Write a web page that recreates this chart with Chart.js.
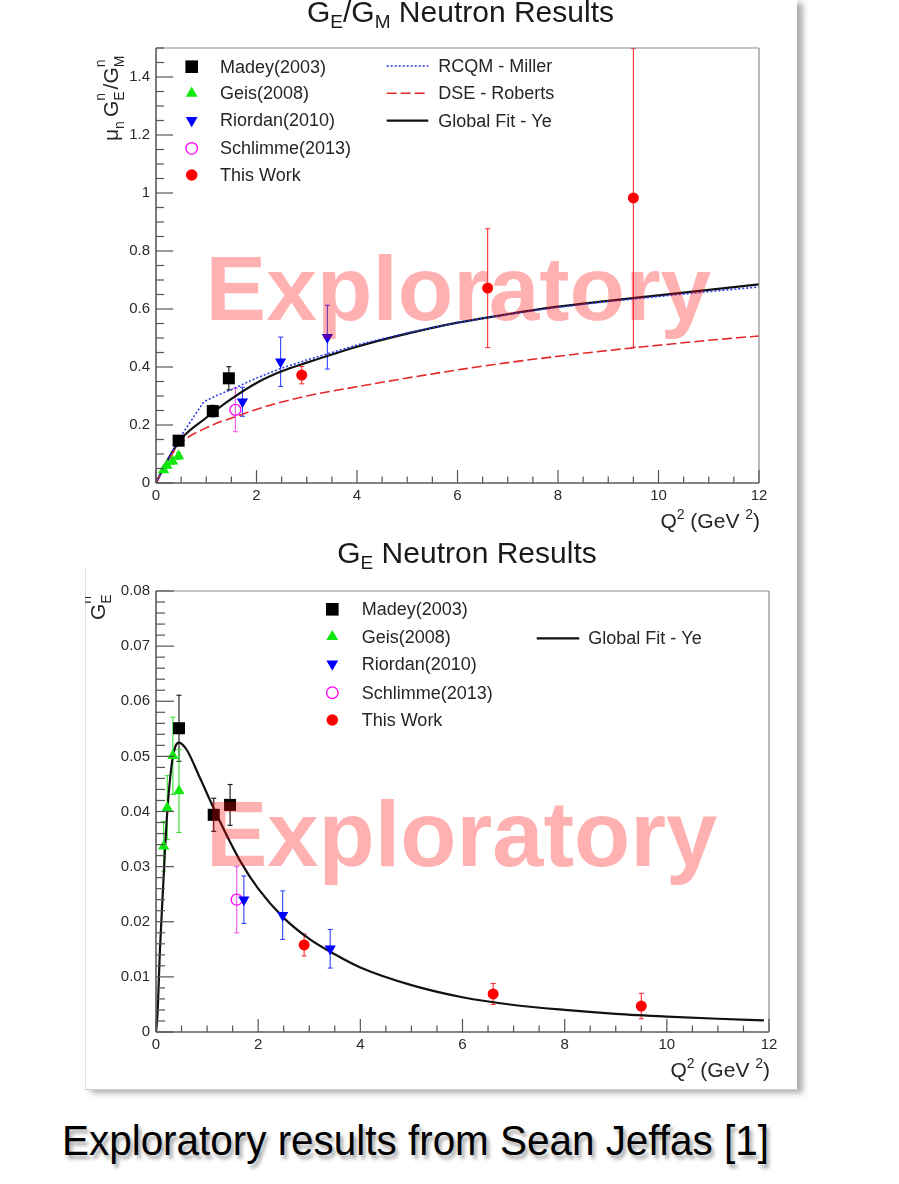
<!DOCTYPE html>
<html>
<head>
<meta charset="utf-8">
<script src="https://cdn.jsdelivr.net/npm/chart.js@4/dist/chart.umd.min.js"></script>
<style>
  html, body { margin: 0; padding: 0; background: #fff; }
  body { width: 899px; height: 1184px; position: relative; overflow: hidden; font-family: "Liberation Sans", Arial, sans-serif; }
  #panel { position: absolute; left: 85px; top: 0; width: 712px; height: 1090px; background: #fff;
           box-shadow: 6px 3px 6px rgba(0,0,0,0.32); }
  #lowerEdge { position: absolute; left: 85px; top: 568px; width: 712px; height: 522px; box-sizing: border-box;
               border-left: 1px solid #e2e2e2; border-bottom: 1px solid #d0d0d0; }
  canvas { position: absolute; left: 85px; }
  #ratioChart { top: 0; }
  #geChart { top: 540px; }
  #caption { position: absolute; left: 62px; top: 1119px; font-size: 43px; line-height: 43px; color: #000;
             white-space: nowrap; transform: scaleX(0.94); transform-origin: 0 0;
             text-shadow: 3px 4px 4px rgba(0,0,0,0.35); }
</style>
</head>
<body>
<div id="panel"></div>
<div id="lowerEdge"></div>
<canvas id="ratioChart" width="712" height="540"></canvas>
<canvas id="geChart" width="712" height="550"></canvas>
<div id="caption">Exploratory results from Sean Jeffas [1]</div>

<script>
// ---------- mu_n G_E/G_M panel ----------
const madeyQ2 = [0.45, 1.13, 1.45];
const madeyRatio = [0.146, 0.248, 0.361];
const madeyRatioErr = [0.012, 0.02, 0.04];

const geisQ2 = [0.15, 0.22, 0.33, 0.45];
const geisRatio = [0.045, 0.06, 0.075, 0.093];
const geisRatioErr = [0.008, 0.009, 0.01, 0.012];

const riordanQ2 = [1.72, 2.48, 3.41];
const riordanRatio = [0.28, 0.418, 0.503];
const riordanRatioErr = [0.05, 0.085, 0.11];

const schlimmeQ2 = [1.58];
const schlimmeRatio = [0.252];
const schlimmeRatioErr = [0.075];

const thisWorkQ2 = [2.9, 6.6, 9.5];
const thisWorkRatio = [0.372, 0.672, 0.983];
const thisWorkRatioErr = [0.03, 0.205, 0.515];

const millerQ2    = [0, 0.25, 0.45, 0.95, 1.25, 1.5, 2, 2.5, 3, 3.5, 4, 5, 6, 7, 8, 9, 10, 11, 12];
const millerRatio = [0, 0.085, 0.15, 0.28, 0.305, 0.322, 0.362, 0.396, 0.424, 0.45, 0.476, 0.518, 0.553, 0.582, 0.606, 0.626, 0.643, 0.66, 0.676];

const robertsQ2    = [0, 0.2, 0.45, 1, 1.67, 2.07, 3, 4, 5, 6, 7, 8, 9, 10, 11, 12];
const robertsRatio = [0, 0.065, 0.13, 0.19, 0.234, 0.258, 0.3, 0.332, 0.362, 0.39, 0.415, 0.437, 0.457, 0.475, 0.492, 0.507];

const yeQ2    = [0, 0.25, 0.5, 1, 1.5, 2, 2.5, 3, 4, 5, 6, 7, 8, 9, 10, 11, 12];
const yeRatio = [0, 0.085, 0.152, 0.225, 0.29, 0.345, 0.385, 0.415, 0.47, 0.515, 0.553, 0.582, 0.608, 0.628, 0.647, 0.666, 0.685];

// ---------- G_E^n panel ----------
const madeyGE = [0.0551, 0.0394, 0.0412];
const madeyGEErr = [0.006, 0.003, 0.0037];
const geisGE = [0.0337, 0.0407, 0.0501, 0.0437];
const geisGEErr = [0.0045, 0.0058, 0.007, 0.0075];
const riordanGE = [0.024, 0.0212, 0.0151];
const riordanGEErr = [0.0043, 0.0044, 0.0035];
const schlimmeGE = [0.024];
const schlimmeGEErr = [0.006];
const thisWorkGE = [0.0158, 0.0069, 0.0047];
const thisWorkGEErr = [0.002, 0.0019, 0.0023];

const yeGEQ2 = [0, 0.03, 0.08, 0.14, 0.21, 0.3, 0.38, 0.45, 0.6, 0.85, 1.2, 1.65, 2, 2.5, 3, 3.5, 4, 5, 6, 7, 8, 9, 10, 11, 11.9];
const yeGE   = [0, 0.0034, 0.0155, 0.0264, 0.0385, 0.048, 0.0518, 0.0525, 0.0512, 0.0463, 0.0392, 0.031, 0.026, 0.0207, 0.0169, 0.0141, 0.0117, 0.0085, 0.0063, 0.0049, 0.004, 0.0033, 0.0028, 0.0024, 0.0021];

// ---------- shared styling ----------
const FONT = '"Liberation Sans", Arial, Helvetica, sans-serif';
Chart.defaults.font.family = FONT;
Chart.defaults.color = '#262626';

const markerStyles = {
  madey:    { pointStyle: 'rect', pointRadius: 8.5, pointRotation: 0, pointBackgroundColor: '#000000', pointBorderColor: '#000000', pointBorderWidth: 0, errColor: '#111111' },
  geis:     { pointStyle: 'triangle', pointRadius: 6.5, pointRotation: 0, pointBackgroundColor: '#10e810', pointBorderColor: '#10e810', pointBorderWidth: 0, errColor: '#30e030' },
  riordan:  { pointStyle: 'triangle', pointRadius: 6.5, pointRotation: 180, pointBackgroundColor: '#0000ff', pointBorderColor: '#0000ff', pointBorderWidth: 0, errColor: '#3344ff' },
  schlimme: { pointStyle: 'circle', pointRadius: 5.5, pointRotation: 0, pointBackgroundColor: 'rgba(255,255,255,0)', pointBorderColor: '#ff00ff', pointBorderWidth: 1.3, errColor: '#ee55ee' },
  thisWork: { pointStyle: 'circle', pointRadius: 5.5, pointRotation: 0, pointBackgroundColor: '#ff0000', pointBorderColor: '#ff0000', pointBorderWidth: 0, errColor: '#ff3030' }
};

function points(label, xs, ys, errs, style) {
  return Object.assign({
    label: label,
    data: xs.map((x, i) => ({ x: x, y: ys[i] })),
    errs: errs,
    showLine: false,
    pointHoverRadius: style.pointRadius
  }, style);
}

function curve(label, xs, ys, color, width, dash, smooth) {
  return {
    label: label,
    data: xs.map((x, i) => ({ x: x, y: ys[i] })),
    showLine: true,
    pointRadius: 0,
    pointHoverRadius: 0,
    borderColor: color,
    borderWidth: width,
    borderDash: dash,
    fill: false,
    tension: 0,
    cubicInterpolationMode: smooth ? 'monotone' : 'default'
  };
}

// ---------- text with sub/superscripts ----------
function measureParts(ctx, parts) {
  let w = 0;
  for (const p of parts) {
    w += p.gap || 0;
    ctx.font = p.size + 'px ' + FONT;
    if (p.pair) w += Math.max(ctx.measureText(p.pair[0]).width, ctx.measureText(p.pair[1]).width);
    else w += ctx.measureText(p.t).width;
  }
  return w;
}

function drawParts(ctx, parts, x, y, align, angle, color) {
  ctx.save();
  ctx.translate(x, y);
  if (angle) ctx.rotate(angle);
  const w = measureParts(ctx, parts);
  let cx = align === 'center' ? -w / 2 : (align === 'right' ? -w : 0);
  ctx.fillStyle = color;
  ctx.textAlign = 'left';
  ctx.textBaseline = 'alphabetic';
  for (const p of parts) {
    cx += p.gap || 0;
    ctx.font = p.size + 'px ' + FONT;
    if (p.pair) {
      ctx.fillText(p.pair[0], cx, p.up);
      ctx.fillText(p.pair[1], cx, p.down);
      cx += Math.max(ctx.measureText(p.pair[0]).width, ctx.measureText(p.pair[1]).width);
    } else {
      ctx.fillText(p.t, cx, p.dy || 0);
      cx += ctx.measureText(p.t).width;
    }
  }
  ctx.restore();
}

function strokeLine(ctx, x1, y1, x2, y2) {
  ctx.beginPath();
  ctx.moveTo(x1, y1);
  ctx.lineTo(x2, y2);
  ctx.stroke();
}

// plain numeric tick text: 1.4, 1, 0.8 ... 0
function tickText(v) {
  return String(parseFloat(Number(v).toFixed(4)));
}

// ---------- per-panel decorations ----------
const xTitleParts = [
  { t: 'Q', size: 21 }, { t: '2', size: 14, dy: -9 }, { t: ' (GeV ', size: 21 }, { t: '2', size: 14, dy: -9 }, { t: ')', size: 21 }
];

const decorations = {
  ratioChart: {
    minor: { x: 0.5, y: 0.05 },
    tickLen: { x: [13, 6.5], y: [17, 8] },
    title: { parts: [{ t: 'G', size: 30 }, { t: 'E', size: 19, dy: 6 }, { t: '/G', size: 30 }, { t: 'M', size: 19, dy: 6 }, { t: ' Neutron Results', size: 30 }], x: 375.5, y: 22 },
    yTitle: { parts: [{ t: 'μ', size: 21 }, { t: 'n', size: 14, dy: 6 }, { t: 'G', size: 21, gap: 4 }, { pair: ['n', 'E'], size: 14, up: -13, down: 6 }, { t: '/G', size: 21, gap: 2 }, { pair: ['n', 'M'], size: 14, up: -13, down: 6 }], x: 33, y: 141 },
    xTitle: { x: 675, y: 528 },
    legend: [
      { ds: 0, x: 106.7, y: 66.7, tx: 135, text: 'Madey(2003)' },
      { ds: 1, x: 106.7, y: 93.3, tx: 135, text: 'Geis(2008)' },
      { ds: 2, x: 106.7, y: 120.3, tx: 135, text: 'Riordan(2010)' },
      { ds: 3, x: 106.7, y: 148.3, tx: 135, text: 'Schlimme(2013)' },
      { ds: 4, x: 106.7, y: 175, tx: 135, text: 'This Work' },
      { ds: 5, line: true, x: 301.7, x2: 343.3, y: 66, tx: 353.3, text: 'RCQM - Miller' },
      { ds: 6, line: true, x: 301.7, x2: 343.3, y: 93.3, tx: 353.3, text: 'DSE - Roberts' },
      { ds: 7, line: true, x: 301.7, x2: 343.3, y: 120.7, tx: 353.3, text: 'Global Fit - Ye' }
    ],
    watermark: { x: 120.5, y: 320, size: 91 }
  },
  geChart: {
    minor: { x: 0.5, y: 0.002 },
    tickLen: { x: [13, 6.5], y: [18, 9] },
    title: { parts: [{ t: 'G', size: 30 }, { t: 'E', size: 19, dy: 6 }, { t: ' Neutron Results', size: 30 }], x: 382, y: 23 },
    yTitle: { parts: [{ t: 'G', size: 21 }, { pair: ['n', 'E'], size: 14, up: -14, down: 6 }], x: 20, y: 80 },
    xTitle: { x: 685, y: 537 },
    legend: [
      { ds: 0, x: 247.3, y: 69.3, tx: 276.7, text: 'Madey(2003)' },
      { ds: 1, x: 247.3, y: 96.7, tx: 276.7, text: 'Geis(2008)' },
      { ds: 2, x: 247.3, y: 124, tx: 276.7, text: 'Riordan(2010)' },
      { ds: 3, x: 247.3, y: 152.7, tx: 276.7, text: 'Schlimme(2013)' },
      { ds: 4, x: 247.3, y: 180, tx: 276.7, text: 'This Work' },
      { ds: 5, line: true, x: 451.7, x2: 494.3, y: 98.3, tx: 503.3, text: 'Global Fit - Ye' }
    ],
    watermark: { x: 121, y: 326, size: 92 }
  }
};

const rootStyle = {
  id: 'rootStyle',
  beforeDatasetsDraw(chart) {
    // error bars, drawn under the markers
    const ctx = chart.ctx, a = chart.chartArea;
    const xs = chart.scales.x, ys = chart.scales.y;
    ctx.save();
    ctx.beginPath();
    ctx.rect(a.left, a.top, a.right - a.left, a.bottom - a.top);
    ctx.clip();
    ctx.lineWidth = 1.1;
    chart.data.datasets.forEach((ds) => {
      if (!ds.errs) return;
      ctx.strokeStyle = ds.errColor;
      ds.data.forEach((p, j) => {
        const e = ds.errs[j];
        const px = xs.getPixelForValue(p.x);
        const y1 = ys.getPixelForValue(p.y + e);
        const y2 = ys.getPixelForValue(p.y - e);
        strokeLine(ctx, px, y1, px, y2);
        strokeLine(ctx, px - 2.5, y1, px + 2.5, y1);
        strokeLine(ctx, px - 2.5, y2, px + 2.5, y2);
      });
    });
    ctx.restore();
  },
  afterDraw(chart) {
    const d = decorations[chart.canvas.id];
    const ctx = chart.ctx, a = chart.chartArea;
    const xs = chart.scales.x, ys = chart.scales.y;

    // frame
    ctx.save();
    ctx.strokeStyle = '#8c8c8c';
    ctx.lineWidth = 1.2;
    strokeLine(ctx, a.left, a.top, a.right, a.top);
    strokeLine(ctx, a.right, a.top, a.right, a.bottom);
    ctx.strokeStyle = '#5a5a5a';
    ctx.lineWidth = 1.6;
    strokeLine(ctx, a.left, a.top, a.left, a.bottom);
    strokeLine(ctx, a.left, a.bottom, a.right, a.bottom);

    // inward ticks
    ctx.lineWidth = 1.2;
    ctx.strokeStyle = '#555';
    const eps = 1e-9;
    for (let v = xs.min; v <= xs.max + eps; v += d.minor.x) {
      const major = Math.abs(v / 2 - Math.round(v / 2)) < 1e-6;
      const px = xs.getPixelForValue(v);
      strokeLine(ctx, px, a.bottom, px, a.bottom - (major ? d.tickLen.x[0] : d.tickLen.x[1]));
    }
    const yStep = ys.ticks.length > 1 ? ys.ticks[1].value - ys.ticks[0].value : 1;
    for (let k = 0; ys.min + k * d.minor.y <= ys.max + eps; k++) {
      const v = ys.min + k * d.minor.y;
      const r = v / yStep;
      const major = Math.abs(r - Math.round(r)) < 1e-6;
      const py = ys.getPixelForValue(v);
      strokeLine(ctx, a.left, py, a.left + (major ? d.tickLen.y[0] : d.tickLen.y[1]), py);
    }
    ctx.restore();

    // legends
    ctx.save();
    d.legend.forEach((it) => {
      const ds = chart.data.datasets[it.ds];
      if (it.line) {
        ctx.save();
        ctx.strokeStyle = ds.borderColor;
        ctx.lineWidth = ds.borderWidth;
        ctx.setLineDash(ds.borderDash || []);
        strokeLine(ctx, it.x, it.y, it.x2, it.y);
        ctx.restore();
      } else {
        ctx.fillStyle = ds.pointBackgroundColor;
        ctx.strokeStyle = ds.pointBorderColor;
        ctx.lineWidth = ds.pointBorderWidth;
        Chart.helpers.drawPoint(ctx, {
          pointStyle: ds.pointStyle,
          rotation: ds.pointRotation,
          radius: ds.pointRadius * 1.05,
          borderWidth: ds.pointBorderWidth
        }, it.x, it.y);
      }
      ctx.fillStyle = '#262626';
      ctx.font = '18px ' + FONT;
      ctx.textAlign = 'left';
      ctx.textBaseline = 'middle';
      ctx.fillText(it.text, it.tx, it.y + 1);
    });
    ctx.restore();

    // titles
    drawParts(ctx, d.title.parts, d.title.x, d.title.y, 'center', 0, '#1a1a1a');
    drawParts(ctx, d.yTitle.parts, d.yTitle.x, d.yTitle.y, 'left', -Math.PI / 2, '#262626');
    drawParts(ctx, xTitleParts, d.xTitle.x, d.xTitle.y, 'right', 0, '#262626');

    // translucent watermark laid over the plot
    ctx.save();
    ctx.fillStyle = 'rgba(255,0,0,0.31)';
    ctx.font = 'bold ' + d.watermark.size + 'px ' + FONT;
    ctx.textAlign = 'left';
    ctx.textBaseline = 'alphabetic';
    ctx.fillText('Exploratory', d.watermark.x, d.watermark.y);
    ctx.restore();
  }
};

function baseOptions(yMax, yStep, pad, yAxisWidth, xAxisHeight) {
  return {
    responsive: false,
    animation: false,
    devicePixelRatio: 1,
    layout: { padding: pad },
    plugins: { legend: { display: false }, tooltip: { enabled: false } },
    scales: {
      x: {
        type: 'linear', min: 0, max: 12,
        grid: { display: false, drawTicks: false },
        border: { display: false },
        ticks: { stepSize: 2, includeBounds: false, padding: 4, font: { size: 15 }, color: '#2a2a2a', maxRotation: 0, callback: tickText },
        afterFit: (s) => { s.height = xAxisHeight; }
      },
      y: {
        type: 'linear', min: 0, max: yMax,
        grid: { display: false, drawTicks: false },
        border: { display: false },
        ticks: { stepSize: yStep, includeBounds: false, padding: 6, font: { size: 15 }, color: '#2a2a2a', callback: tickText },
        afterFit: (s) => { s.width = yAxisWidth; }
      }
    }
  };
}

new Chart(document.getElementById('ratioChart'), {
  type: 'scatter',
  data: {
    datasets: [
      points('Madey(2003)', madeyQ2, madeyRatio, madeyRatioErr, markerStyles.madey),
      points('Geis(2008)', geisQ2, geisRatio, geisRatioErr, markerStyles.geis),
      points('Riordan(2010)', riordanQ2, riordanRatio, riordanRatioErr, markerStyles.riordan),
      points('Schlimme(2013)', schlimmeQ2, schlimmeRatio, schlimmeRatioErr, markerStyles.schlimme),
      points('This Work', thisWorkQ2, thisWorkRatio, thisWorkRatioErr, markerStyles.thisWork),
      curve('RCQM - Miller', millerQ2, millerRatio, 'rgb(45,60,235)', 1.6, [2, 2], false),
      curve('DSE - Roberts', robertsQ2, robertsRatio, 'rgb(228,40,40)', 1.6, [10, 4], true),
      curve('Global Fit - Ye', yeQ2, yeRatio, '#111111', 2.2, [], true)
    ]
  },
  options: baseOptions(1.5, 0.2, { top: 48, right: 38, left: 0, bottom: 0 }, 71, 57),
  plugins: [rootStyle]
});

new Chart(document.getElementById('geChart'), {
  type: 'scatter',
  data: {
    datasets: [
      points('Madey(2003)', madeyQ2, madeyGE, madeyGEErr, markerStyles.madey),
      points('Geis(2008)', geisQ2, geisGE, geisGEErr, markerStyles.geis),
      points('Riordan(2010)', riordanQ2, riordanGE, riordanGEErr, markerStyles.riordan),
      points('Schlimme(2013)', schlimmeQ2, schlimmeGE, schlimmeGEErr, markerStyles.schlimme),
      points('This Work', thisWorkQ2, thisWorkGE, thisWorkGEErr, markerStyles.thisWork),
      curve('Global Fit - Ye', yeGEQ2, yeGE, '#111111', 2.2, [], true)
    ]
  },
  options: baseOptions(0.08, 0.01, { top: 51, right: 28, left: 0, bottom: 0 }, 71, 58),
  plugins: [rootStyle]
});
</script>
</body>
</html>
